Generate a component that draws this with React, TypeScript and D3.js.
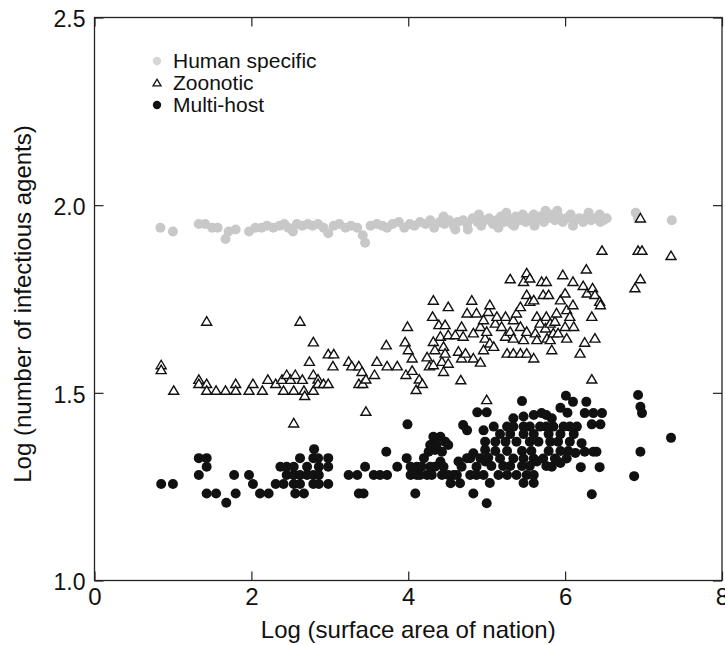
import * as d3 from "d3";
import { useEffect, useRef } from "react";

type Point = [number, number];

// [log surface area, log number of agents]
const humanSpecific: Point[] = [
  [0.84, 1.94], [1.0, 1.93], [1.33, 1.95], [1.41, 1.95], [1.5, 1.94], [1.57, 1.94], [1.67, 1.91],
  [1.71, 1.93], [1.8, 1.935], [1.97, 1.93], [2.05, 1.94], [2.13, 1.94], [2.2, 1.945], [2.28, 1.94],
  [2.36, 1.945], [2.42, 1.95], [2.47, 1.94], [2.53, 1.93], [2.58, 1.95], [2.65, 1.945], [2.72, 1.95],
  [2.78, 1.945], [2.85, 1.95], [2.92, 1.94], [2.98, 1.925], [3.05, 1.945], [3.12, 1.95], [3.2, 1.94],
  [3.27, 1.945], [3.35, 1.94], [3.42, 1.92], [3.45, 1.9], [3.52, 1.945], [3.6, 1.95], [3.67, 1.945],
  [3.73, 1.94], [3.8, 1.95], [3.88, 1.955], [3.95, 1.94], [4.02, 1.95], [4.08, 1.945], [4.15, 1.955],
  [4.22, 1.95], [4.28, 1.96], [4.33, 1.94], [4.4, 1.955], [4.45, 1.97], [4.46, 1.95], [4.52, 1.96],
  [4.58, 1.945], [4.6, 1.935], [4.63, 1.955], [4.7, 1.96], [4.75, 1.95], [4.76, 1.935], [4.82, 1.965],
  [4.88, 1.955], [4.9, 1.975], [4.93, 1.945], [4.98, 1.96], [5.03, 1.965], [5.08, 1.95], [5.13, 1.96],
  [5.15, 1.94], [5.18, 1.97], [5.22, 1.955], [5.25, 1.98], [5.27, 1.965], [5.32, 1.95], [5.35, 1.945],
  [5.37, 1.97], [5.42, 1.96], [5.46, 1.975], [5.5, 1.955], [5.55, 1.965], [5.6, 1.975], [5.61, 1.945],
  [5.64, 1.96], [5.68, 1.97], [5.73, 1.955], [5.75, 1.985], [5.78, 1.965], [5.82, 1.975], [5.87, 1.96],
  [5.9, 1.985], [5.92, 1.97], [5.97, 1.955], [6.02, 1.965], [6.07, 1.975], [6.1, 1.945], [6.12, 1.96],
  [6.18, 1.965], [6.23, 1.955], [6.28, 1.97], [6.3, 1.98], [6.33, 1.96], [6.38, 1.965], [6.44, 1.975],
  [6.45, 1.955], [6.49, 1.96], [6.53, 1.965], [6.9, 1.98], [6.93, 1.965], [7.36, 1.96],
];

const zoonotic: Point[] = [
  [0.85, 1.574], [0.85, 1.561], [1.01, 1.506], [1.33, 1.535], [1.33, 1.524], [1.43, 1.524], [1.43, 1.506],
  [1.43, 1.69], [1.55, 1.506], [1.67, 1.506], [1.8, 1.524], [1.8, 1.506], [1.97, 1.506], [2.02, 1.524],
  [2.14, 1.506], [2.21, 1.535], [2.31, 1.524], [2.39, 1.535], [2.41, 1.506], [2.45, 1.548], [2.5, 1.535],
  [2.54, 1.506], [2.54, 1.419], [2.56, 1.548], [2.62, 1.69], [2.65, 1.535], [2.67, 1.506], [2.68, 1.492],
  [2.74, 1.583], [2.79, 1.635], [2.79, 1.548], [2.79, 1.506], [2.85, 1.536], [2.85, 1.524], [2.92, 1.524],
  [2.98, 1.524], [2.98, 1.603], [3.05, 1.603], [3.04, 1.571], [3.24, 1.583], [3.28, 1.571], [3.37, 1.571],
  [3.41, 1.556], [3.37, 1.524], [3.42, 1.524], [3.46, 1.536], [3.46, 1.45], [3.57, 1.548], [3.6, 1.583],
  [3.72, 1.627], [3.73, 1.571], [3.86, 1.571], [3.96, 1.635], [3.97, 1.548], [3.99, 1.676], [4.0, 1.614],
  [4.05, 1.592], [4.05, 1.559], [4.1, 1.508], [4.14, 1.536], [4.18, 1.524], [4.24, 1.595], [4.27, 1.571],
  [4.31, 1.703], [4.32, 1.746], [4.32, 1.636], [4.32, 1.574], [4.34, 1.614], [4.39, 1.681], [4.41, 1.65],
  [4.43, 1.583], [4.45, 1.623], [4.45, 1.556], [4.47, 1.681], [4.47, 1.605], [4.51, 1.729], [4.51, 1.654],
  [4.51, 1.578], [4.6, 1.654], [4.64, 1.61], [4.67, 1.534], [4.68, 1.676], [4.68, 1.592], [4.7, 1.65],
  [4.73, 1.605], [4.75, 1.712], [4.81, 1.746], [4.83, 1.659], [4.83, 1.592], [4.87, 1.712], [4.92, 1.676],
  [4.92, 1.581], [4.96, 1.694], [4.96, 1.614], [4.98, 1.645], [5.0, 1.663], [5.0, 1.481], [5.02, 1.716],
  [5.04, 1.734], [5.04, 1.632], [5.09, 1.623], [5.11, 1.685], [5.13, 1.703], [5.19, 1.676], [5.24, 1.703],
  [5.24, 1.65], [5.26, 1.605], [5.3, 1.803], [5.3, 1.663], [5.34, 1.694], [5.34, 1.645], [5.34, 1.605],
  [5.38, 1.712], [5.43, 1.729], [5.43, 1.676], [5.43, 1.605], [5.47, 1.796], [5.47, 1.641], [5.51, 1.819],
  [5.51, 1.761], [5.51, 1.663], [5.51, 1.605], [5.55, 1.805], [5.55, 1.743], [5.6, 1.747], [5.6, 1.592],
  [5.62, 1.659], [5.64, 1.703], [5.64, 1.641], [5.68, 1.685], [5.7, 1.796], [5.72, 1.761], [5.75, 1.672],
  [5.76, 1.796], [5.76, 1.703], [5.77, 1.645], [5.79, 1.761], [5.81, 1.685], [5.81, 1.641], [5.83, 1.614],
  [5.85, 1.659], [5.87, 1.69], [5.89, 1.712], [5.91, 1.659], [5.94, 1.747], [5.97, 1.814], [6.0, 1.765],
  [6.0, 1.676], [6.02, 1.721], [6.02, 1.645], [6.06, 1.703], [6.1, 1.796], [6.1, 1.734], [6.11, 1.676],
  [6.19, 1.605], [6.23, 1.785], [6.25, 1.634], [6.27, 1.829], [6.28, 1.765], [6.34, 1.703], [6.34, 1.536],
  [6.35, 1.779], [6.38, 1.761], [6.38, 1.645], [6.44, 1.743], [6.45, 1.734], [6.47, 1.879], [6.89, 1.779],
  [6.93, 1.879], [6.96, 1.965], [6.96, 1.803], [6.98, 1.879], [7.35, 1.865],
];

const multiHost: Point[] = [
  [0.85, 1.257], [1.0, 1.257], [1.33, 1.326], [1.43, 1.326], [1.43, 1.303], [1.33, 1.281], [1.43, 1.232],
  [1.55, 1.232], [1.68, 1.207], [1.8, 1.232], [1.78, 1.281], [1.97, 1.281], [2.02, 1.257], [2.11, 1.232],
  [2.22, 1.232], [2.31, 1.257], [2.41, 1.257], [2.56, 1.232], [2.67, 1.232], [2.37, 1.303], [2.45, 1.303],
  [2.54, 1.303], [2.62, 1.326], [2.71, 1.303], [2.79, 1.326], [2.86, 1.303], [2.45, 1.281], [2.54, 1.281],
  [2.62, 1.281], [2.71, 1.281], [2.79, 1.257], [2.79, 1.281], [2.54, 1.257], [2.62, 1.257], [2.8, 1.35],
  [2.85, 1.326], [2.98, 1.326], [2.98, 1.303], [2.86, 1.281], [2.86, 1.257], [2.98, 1.257], [3.24, 1.281],
  [3.35, 1.281], [3.45, 1.303], [3.56, 1.281], [3.64, 1.281], [3.73, 1.281], [3.37, 1.232], [3.43, 1.232],
  [3.72, 1.343], [3.86, 1.303], [3.98, 1.326], [3.99, 1.416], [4.03, 1.303], [4.11, 1.303], [4.2, 1.326],
  [4.03, 1.281], [4.11, 1.281], [4.24, 1.281], [4.34, 1.303], [4.34, 1.348], [4.09, 1.232], [4.17, 1.303],
  [4.28, 1.303], [4.41, 1.317], [4.45, 1.303], [4.64, 1.317], [4.68, 1.303], [4.79, 1.326], [4.92, 1.326],
  [4.87, 1.303], [4.98, 1.317], [4.15, 1.281], [4.3, 1.281], [4.43, 1.281], [4.51, 1.281], [4.58, 1.281],
  [4.62, 1.281], [4.79, 1.281], [4.87, 1.281], [4.96, 1.281], [4.54, 1.259], [4.66, 1.259], [4.83, 1.232],
  [5.0, 1.206], [4.88, 1.448], [5.0, 1.448], [4.7, 1.414], [4.75, 1.4], [4.96, 1.4], [4.32, 1.383],
  [4.41, 1.383], [4.47, 1.37], [4.28, 1.361], [4.36, 1.361], [4.51, 1.361], [4.26, 1.343], [4.43, 1.343],
  [4.98, 1.37], [4.98, 1.348], [4.83, 1.339], [4.75, 1.326], [5.45, 1.478], [6.01, 1.492], [5.94, 1.46],
  [6.03, 1.447], [5.34, 1.432], [5.47, 1.437], [5.6, 1.441], [5.7, 1.446], [5.76, 1.441], [5.83, 1.432],
  [5.09, 1.41], [5.26, 1.41], [5.34, 1.41], [5.47, 1.41], [5.55, 1.41], [5.68, 1.41], [5.76, 1.41],
  [5.85, 1.41], [5.98, 1.41], [6.06, 1.41], [6.15, 1.41], [5.17, 1.39], [5.3, 1.39], [5.47, 1.39],
  [5.6, 1.39], [5.79, 1.39], [5.94, 1.39], [6.11, 1.39], [5.11, 1.37], [5.24, 1.37], [5.38, 1.37],
  [5.55, 1.37], [5.66, 1.37], [5.81, 1.37], [5.91, 1.37], [6.06, 1.37], [5.11, 1.345], [5.26, 1.345],
  [5.45, 1.345], [5.57, 1.345], [5.79, 1.345], [5.94, 1.345], [6.04, 1.345], [5.02, 1.327], [5.17, 1.325],
  [5.34, 1.325], [5.47, 1.325], [5.6, 1.325], [5.72, 1.325], [5.87, 1.325], [6.02, 1.325], [6.13, 1.34],
  [5.06, 1.305], [5.21, 1.305], [5.3, 1.305], [5.45, 1.305], [5.55, 1.305], [5.64, 1.317], [5.76, 1.305],
  [5.94, 1.313], [5.15, 1.281], [5.26, 1.281], [5.38, 1.281], [5.51, 1.281], [5.6, 1.281], [5.04, 1.26],
  [5.47, 1.26], [5.6, 1.26], [6.1, 1.476], [6.27, 1.476], [6.93, 1.494], [6.96, 1.463], [6.98, 1.446],
  [6.25, 1.446], [6.36, 1.446], [6.47, 1.446], [6.34, 1.416], [6.45, 1.416], [6.21, 1.366], [6.25, 1.343],
  [6.36, 1.343], [6.4, 1.343], [7.35, 1.38], [6.96, 1.343], [5.89, 1.321], [5.83, 1.303], [6.2, 1.302],
  [6.44, 1.302], [6.88, 1.278], [6.34, 1.23],
];

const xTickValues = [0, 2, 4, 6, 8];
const yTickValues = [1.0, 1.5, 2.0, 2.5];
const legendLabels = ["Human specific", "Zoonotic", "Multi-host"];
const xTitle = "Log (surface area of nation)";
const yTitle = "Log (number of infectious agents)";

const FONT = "'Liberation Sans', Arial, Helvetica, sans-serif";
const GREY = "#c8c8c8";

// small triangle, point up, centred on the marker position
const trianglePath = "M0,-4.8L5,3.7L-5,3.7Z";

const App = () => {
  const svgRef = useRef<SVGSVGElement>(null);

  useEffect(() => {
    const svg = d3.select(svgRef.current);
    svg.selectChildren().remove();

    const x = d3.scaleLinear().domain([0, 8]).range([94.5, 722]);
    const y = d3.scaleLinear().domain([1, 2.5]).range([580.5, 17.5]);

    svg.append("rect").attr("width", 725).attr("height", 645).attr("fill", "#fff");

    // ticks pointing inwards on all four sides
    const bottom = svg
      .append("g")
      .attr("transform", `translate(0,${y(1)})`)
      .call(
        d3.axisBottom(x).tickValues(xTickValues).tickSize(-9).tickPadding(7).tickFormat(d3.format("d"))
      );
    const left = svg
      .append("g")
      .attr("transform", `translate(${x(0)},0)`)
      .call(
        d3.axisLeft(y).tickValues(yTickValues).tickSize(-9).tickPadding(9).tickFormat(d3.format(".1f"))
      );
    svg
      .append("g")
      .attr("transform", `translate(0,${y(2.5)})`)
      .call(d3.axisTop(x).tickValues(xTickValues).tickSize(-9).tickFormat(() => ""));
    svg
      .append("g")
      .attr("transform", `translate(${x(8)},0)`)
      .call(d3.axisRight(y).tickValues(yTickValues).tickSize(-9).tickFormat(() => ""));

    svg.selectAll(".domain").remove();
    svg.selectAll(".tick line").attr("stroke", "#222").attr("stroke-width", 1.2);
    bottom.selectAll("text").attr("font-family", FONT).attr("font-size", 24).attr("fill", "#111");
    left
      .selectAll("text")
      .attr("font-family", FONT)
      .attr("font-size", 23)
      .attr("dy", "0.4em")
      .attr("fill", "#111");

    svg
      .append("rect")
      .attr("x", x(0))
      .attr("y", y(2.5))
      .attr("width", x(8) - x(0))
      .attr("height", y(1) - y(2.5))
      .attr("fill", "none")
      .attr("stroke", "#222")
      .attr("stroke-width", 1.3);

    // points
    svg
      .append("g")
      .selectAll("circle")
      .data(humanSpecific)
      .join("circle")
      .attr("cx", (d) => x(d[0]))
      .attr("cy", (d) => y(d[1]))
      .attr("r", 5)
      .attr("fill", GREY);

    svg
      .append("g")
      .selectAll("path")
      .data(zoonotic)
      .join("path")
      .attr("d", trianglePath)
      .attr("transform", (d) => `translate(${x(d[0])},${y(d[1])})`)
      .attr("fill", "#fff")
      .attr("stroke", "#111")
      .attr("stroke-width", 1.4);

    svg
      .append("g")
      .selectAll("circle")
      .data(multiHost)
      .join("circle")
      .attr("cx", (d) => x(d[0]))
      .attr("cy", (d) => y(d[1]))
      .attr("r", 5)
      .attr("fill", "#111");

    // legend
    const legend = svg.append("g").attr("transform", "translate(157,0)");
    legend.append("circle").attr("cx", 0).attr("cy", 61).attr("r", 4.2).attr("fill", "#d6d6d6");
    legend
      .append("path")
      .attr("d", trianglePath)
      .attr("transform", "translate(0,83) scale(0.8)")
      .attr("fill", "#fff")
      .attr("stroke", "#111")
      .attr("stroke-width", 1.6);
    legend.append("circle").attr("cx", 0).attr("cy", 105).attr("r", 4.2).attr("fill", "#111");
    legend
      .selectAll("text")
      .data(legendLabels)
      .join("text")
      .attr("x", 16)
      .attr("y", (_, i) => 68 + i * 22)
      .attr("font-family", FONT)
      .attr("font-size", 21)
      .attr("fill", "#111")
      .text((d) => d);

    // titles
    svg
      .append("text")
      .attr("x", x(4))
      .attr("y", 638)
      .attr("text-anchor", "middle")
      .attr("font-family", FONT)
      .attr("font-size", 24)
      .attr("fill", "#111")
      .text(xTitle);
    svg
      .append("text")
      .attr("transform", "translate(31,304) rotate(-90)")
      .attr("text-anchor", "middle")
      .attr("font-family", FONT)
      .attr("font-size", 24)
      .attr("fill", "#111")
      .text(yTitle);
  }, []);

  return (
    <svg
      ref={svgRef}
      width={725}
      height={645}
      style={{ position: "absolute", left: 0, top: 0, display: "block" }}
    />
  );
};

export default App;
